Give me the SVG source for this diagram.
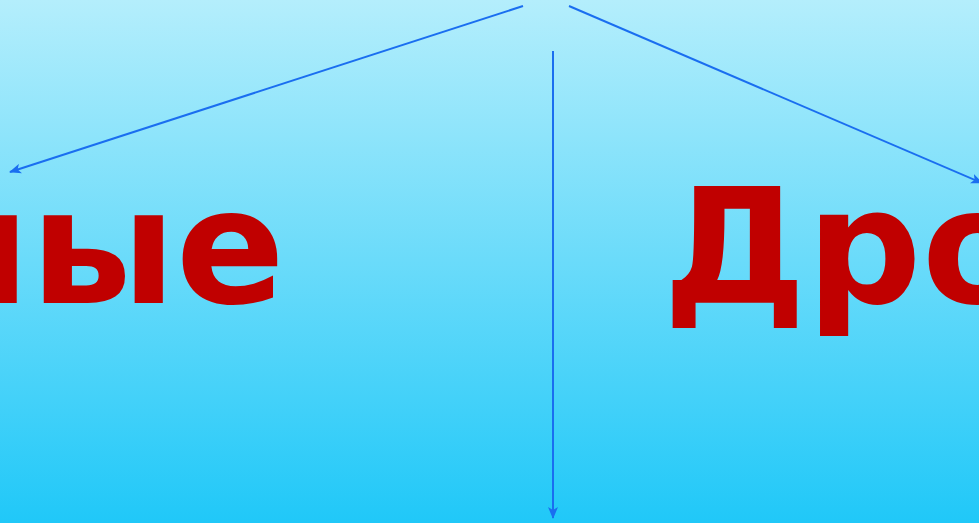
<svg xmlns="http://www.w3.org/2000/svg" width="979" height="523" viewBox="0 0 979 523">
<defs>
<linearGradient id="bg" x1="0" y1="0" x2="0" y2="1">
<stop offset="0" stop-color="#b4eefc"/>
<stop offset="1" stop-color="#20c8f8"/>
</linearGradient>
<marker id="ah" viewBox="0 0 12 10" refX="11" refY="5" markerWidth="12" markerHeight="10" markerUnits="userSpaceOnUse" orient="auto">
<path d="M0,0 L12,5 L0,10 L3,5 Z" fill="#1a6ef0"/>
</marker>
<style>
.lbl{font-family:"DejaVu Sans",sans-serif;font-weight:bold;font-size:161px;fill:#c00000}
.con{stroke:#1a6ef0;stroke-width:2;fill:none;marker-end:url(#ah)}
</style>
</defs>
<rect width="979" height="523" fill="url(#bg)"/>
<g id="connectors">
<line class="con" x1="523" y1="6" x2="10" y2="172"/>
<line class="con" x1="569" y1="6" x2="982" y2="183"/>
<line class="con" x1="553" y1="51" x2="553" y2="518"/>
</g>
<g id="node-left">
<text class="lbl" x="285" y="303" text-anchor="end">ные</text>
</g>
<g id="node-right">
<text class="lbl" x="663" y="303">Дро</text>
</g>
</svg>
